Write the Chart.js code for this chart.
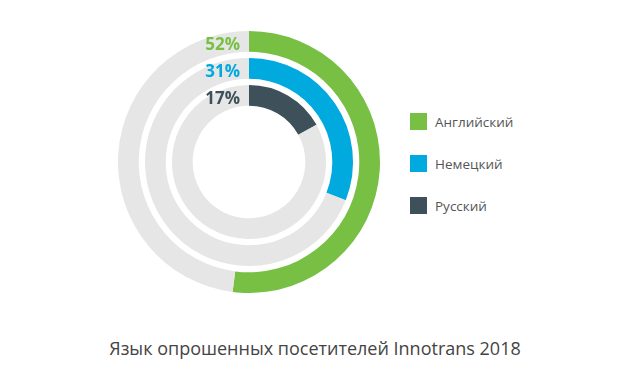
<!DOCTYPE html>
<html>
<head>
<meta charset="utf-8">
<script src="https://cdn.jsdelivr.net/npm/chart.js@4"></script>
<style>
  body { margin: 0; width: 620px; height: 387px; background: #fff; position: relative; overflow: hidden; font-family: "Open Sans", sans-serif; }
  #chartBox { position: absolute; left: 118px; top: 31px; width: 262px; height: 262px; }
  #legend { position: absolute; left: 410px; top: 113px; }
  .item { display: flex; align-items: center; height: 17px; margin-bottom: 25px; font-size: 13.5px; color: #555; }
  .item span.box { width: 17px; height: 17px; margin-right: 8px; }
  #title { position: absolute; left: 0; width: 630px; top: 336px; text-align: center; font-size: 18px; color: #444; }
</style>
</head>
<body>
<div id="chartBox"><canvas id="rings"></canvas></div>
<div id="legend"></div>
<div id="title">Язык опрошенных посетителей Innotrans 2018</div>
<script>
// данные
const languages = ['Английский', 'Немецкий', 'Русский'];
const shares = [52, 31, 17];
const colors = ['#78c043', '#00a9de', '#3e5059'];
const restColor = '#e6e6e6';

// кольца + прозрачные промежутки между ними
const datasets = [];
languages.forEach((lang, i) => {
    if (i > 0) {
        datasets.push({ data: [100], backgroundColor: ['rgba(0,0,0,0)'], borderWidth: 0, weight: 0.3, spacer: true });
    }
    datasets.push({
        label: lang,
        data: [shares[i], 100 - shares[i]],
        backgroundColor: [colors[i], restColor],
        borderWidth: 0,
        weight: 1
    });
});

// подписи процентов слева от начала дуги
const pctLabels = {
    id: 'pctLabels',
    afterDatasetsDraw(chart) {
        const ctx = chart.ctx;
        let k = 0;
        chart.data.datasets.forEach((ds, di) => {
            if (ds.spacer) return;
            const arc = chart.getDatasetMeta(di).data[0];
            const r = (arc.innerRadius + arc.outerRadius) / 2;
            ctx.save();
            ctx.font = 'bold 17px "Open Sans", sans-serif';
            ctx.fillStyle = colors[k];
            ctx.textAlign = 'right';
            ctx.textBaseline = 'middle';
            ctx.fillText(shares[k] + '%', arc.x - 9, arc.y - r + 4);
            ctx.restore();
            k++;
        });
    }
};

new Chart(document.getElementById('rings'), {
    type: 'doughnut',
    data: { labels: ['value', 'rest'], datasets: datasets },
    options: {
        responsive: true,
        maintainAspectRatio: false,
        animation: false,
        cutout: '43%',
        layout: { padding: 0 },
        plugins: {
            legend: { display: false },
            tooltip: { enabled: false }
        }
    },
    plugins: [pctLabels]
});

// легенда
const legend = document.getElementById('legend');
languages.forEach((lang, i) => {
    const row = document.createElement('div');
    row.className = 'item';
    row.innerHTML = `<span class="box" style="background:${colors[i]}"></span>${lang}`;
    legend.appendChild(row);
});
</script>
</body>
</html>
